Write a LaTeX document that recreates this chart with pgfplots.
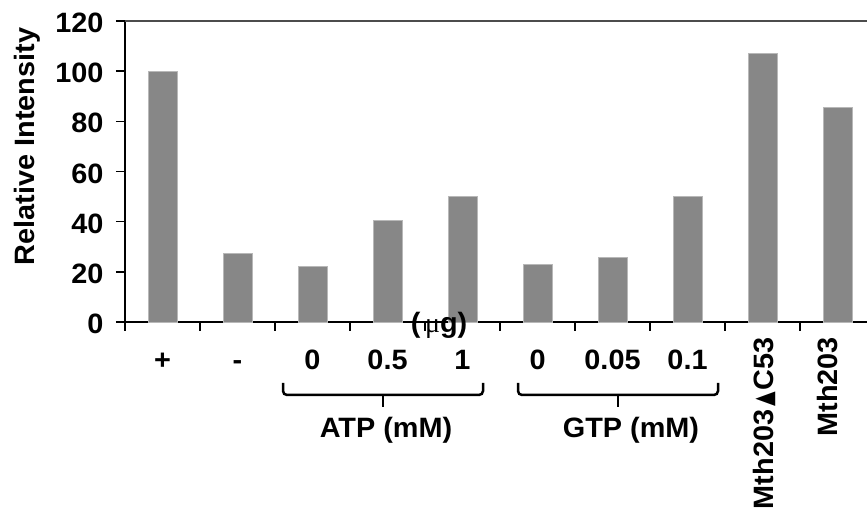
\documentclass[border=0pt]{standalone}
\usepackage{pgfplots}
\pgfplotsset{compat=1.18}
\usepackage{graphicx}
\usepackage{fontspec}
\setmainfont{Liberation Sans}[FakeStretch=1.03]
\newfontfamily\dejavu{DejaVu Sans}
\newfontfamily\serifmu{Liberation Serif}
\definecolor{barfill}{HTML}{878787}
\definecolor{baredge}{HTML}{B8B8B8}
\begin{document}
\begin{tikzpicture}[font=\fontsize{28}{32}\selectfont\bfseries]
\useasboundingbox (-125pt,-196pt) rectangle (742pt,322pt);
\begin{axis}[
  at={(0pt,0pt)}, anchor=south west,
  scale only axis, width=742pt, height=301pt,
  xmin=-0.5, xmax=9.393, ymin=0, ymax=120,
  clip=false,
  axis x line*=bottom, axis y line*=left,
  axis line style={line width=1.6pt, black},
  ytick={0,20,...,120},
  xtick={-0.5,0.5,...,8.5}, xticklabels={},
  tick align=outside, major tick length=9pt,
  tick style={line width=1.4pt, black},
  tick label style={font=\fontsize{28}{32}\selectfont\bfseries},
  yticklabel style={xshift=-9pt, yshift=-2pt},
  /pgf/number format/assume math mode=true,
  extra x ticks={0,1,...,9},
  extra x tick labels={+,-,0,0.5,1,0,0.05,0.1,{},{}},
  extra x tick style={major tick length=0pt, xticklabel style={anchor=base, yshift=-48pt}},
]
\addplot[ybar, bar width=29pt, fill=barfill, draw=baredge, line width=0.8pt]
  coordinates {(0,100) (1,27.5) (2,22.3) (3,40.6) (4,50.2) (5,22.8) (6,25.8) (7,50.2) (8,107.2) (9,85.7)};
\draw[line width=1.4pt, black!70] (axis cs:-0.5,120) -- (axis cs:9.393,120);
\end{axis}
% y label
\node[rotate=90, anchor=base] at (-90pt,175.5pt) {Relative Intensity};
% (mu g)
\node at (314pt,-3pt) {(\,{\serifmu\mdseries μ}g)};
% braces
\draw[line width=2.5pt, rounded corners=4pt] (158pt,-61pt) -- (158pt,-73pt) -- (358pt,-73pt) -- (358pt,-61pt);
\draw[line width=2.5pt] (258pt,-73pt) -- (258pt,-85pt);
\draw[line width=2.5pt, rounded corners=4pt] (393pt,-61pt) -- (393pt,-73pt) -- (593pt,-73pt) -- (593pt,-61pt);
\draw[line width=2.5pt] (493pt,-73pt) -- (493pt,-85pt);
\node[anchor=base] at (261pt,-116pt) {ATP (mM)};
\node[anchor=base] at (506pt,-116pt) {GTP (mM)};
% rotated labels
\node[rotate=90, anchor=base east, inner sep=0pt] at (648pt,-15pt) {Mth203\hspace{3pt}\raisebox{1pt}{\scalebox{0.95}[1.3]{\dejavu\mdseries\fontsize{20}{20}\selectfont ▲}}\hspace{2pt}C53};
\node[rotate=90, anchor=base east, inner sep=0pt] at (712pt,-15pt) {Mth203};
\end{tikzpicture}
\end{document}
